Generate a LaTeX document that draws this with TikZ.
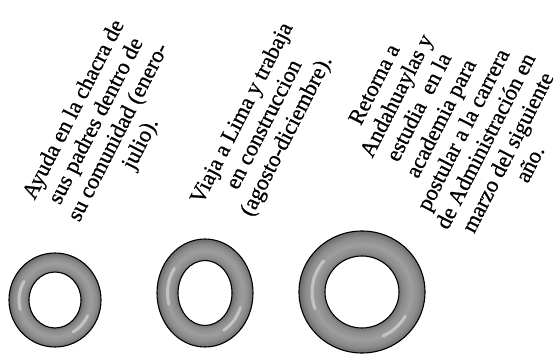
\documentclass[tikz,border=0pt]{standalone}
\usepackage{fontspec}
\setmainfont{Liberation Serif}
\newfontfamily\stagefont{Liberation Serif}[FakeBold=0.8]
\usepackage{xcolor}
\definecolor{tubeEdge}{HTML}{6A6A6A}
\definecolor{tubeMid}{HTML}{8C8C8C}
\definecolor{tubeLight}{HTML}{9E9E9E}
\pgfdeclareradialshading{torus}{\pgfpoint{0bp}{0bp}}{%
  color(0bp)=(white); color(14bp)=(tubeEdge); color(16.5bp)=(tubeMid);
  color(19.5bp)=(tubeLight); color(22.5bp)=(tubeMid); color(25bp)=(tubeEdge);
  color(50bp)=(tubeEdge)}
\tikzset{
  ring/.style={even odd rule, shading=torus, draw=black, line width=1.1pt},
  gleam/.style={white, opacity=0.4, line width=3pt, line cap=round},
  stage/.style={rotate=63, align=center, font=\stagefont\fontsize{22.5}{25}\selectfont, inner sep=0pt}
}

\begin{document}
\begin{tikzpicture}[x=1pt,y=1pt]
  \useasboundingbox (0,0) rectangle (557,354);
  % the three rings
  \coordinate (ringA) at (55,54);
  \coordinate (ringB) at (205,61);
  \coordinate (ringC) at (362,62);
  \shadedraw[ring] (ringA) ellipse [x radius=46, y radius=47] (ringA) ellipse [x radius=26, y radius=28];
  \shadedraw[ring] (ringB) ellipse [x radius=48, y radius=54] (ringB) ellipse [x radius=27, y radius=32.5];
  \shadedraw[ring] (ringC) ellipse [x radius=63, y radius=61] (ringC) ellipse [x radius=37, y radius=36];
  \draw[gleam] ([shift={(150:36 and 37)}]ringA) arc [start angle=150, end angle=195, x radius=36, y radius=37];
  \draw[gleam] ([shift={(300:36 and 37)}]ringA) arc [start angle=300, end angle=335, x radius=36, y radius=37];
  \draw[gleam] ([shift={(145:37.5 and 43)}]ringB) arc [start angle=145, end angle=195, x radius=37.5, y radius=43];
  \draw[gleam] ([shift={(300:37.5 and 43)}]ringB) arc [start angle=300, end angle=340, x radius=37.5, y radius=43];
  \draw[gleam] ([shift={(140:50 and 48.5)}]ringC) arc [start angle=140, end angle=200, x radius=50, y radius=48.5];
  \draw[gleam] ([shift={(295:50 and 48.5)}]ringC) arc [start angle=295, end angle=330, x radius=50, y radius=48.5];
  % texts
  \node[stage] (chacra) at (108,227) {Ayuda en la chacra de\\sus padres dentro de\\su comunidad (enero-\\julio).};
  \node[stage] (lima) at (265,229) {Viaja a Lima y trabaja\\en construccion\\(agosto-diciembre).};
  \node[stage] (retorno) at (452,230) {Retorna a\\Andahuaylas y\\estudia\ \ en la\\academia para\\postular a la carrera\\de Administración en\\marzo del siguiente\\año.};
\end{tikzpicture}
\end{document}
